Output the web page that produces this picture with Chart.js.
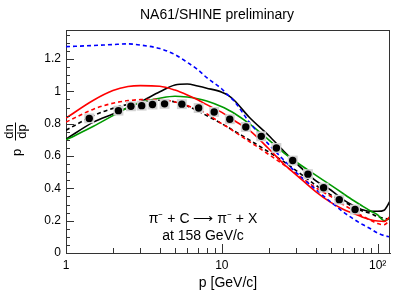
<!DOCTYPE html>
<html lang="en">
<head>
<meta charset="UTF-8">
<title>NA61/SHINE preliminary</title>
<script src="https://cdn.jsdelivr.net/npm/chart.js"></script>
<style>
  html, body { margin: 0; padding: 0; background: #fff; }
  #wrap { width: 407px; height: 295px; }
</style>
</head>
<body>
<div id="wrap"><canvas id="spectrum" width="407" height="295"></canvas></div>
<script>
// momentum grid used for the model curves [GeV/c]
const momentum = [1, 1.5, 2, 2.5, 3, 4, 5, 6, 7, 8, 10, 11, 12, 15, 20, 25, 30, 40, 50, 60, 70, 80, 90, 100, 110, 120];

// model predictions, p dn/dp
const redSolid   = [0.835, 0.945, 1.005, 1.03, 1.036, 1.032, 1.008, 0.978, 0.948, 0.918, 0.87, 0.845, 0.82, 0.76, 0.645, 0.55, 0.484, 0.38, 0.313, 0.271, 0.244, 0.222, 0.206, 0.198, 0.195, 0.225];
const redDashed  = [0.81, 0.89, 0.927, 0.943, 0.949, 0.95, 0.935, 0.912, 0.888, 0.862, 0.80, 0.776, 0.752, 0.69, 0.61, 0.545, 0.49, 0.405, 0.35, 0.30, 0.262, 0.228, 0.203, 0.182, 0.175, 0.205];
const blackDashed = [0.76, 0.85, 0.895, 0.92, 0.935, 0.945, 0.935, 0.91, 0.88, 0.85, 0.80, 0.778, 0.755, 0.70, 0.625, 0.565, 0.51, 0.42, 0.36, 0.32, 0.285, 0.26, 0.245, 0.225, 0.215, 0.21];
const blackSolid = [0.705, 0.81, 0.86, 0.90, 0.935, 0.998, 1.04, 1.046, 1.033, 1.02, 0.995, 0.975, 0.945, 0.84, 0.727, 0.63, 0.556, 0.448, 0.39, 0.33, 0.293, 0.268, 0.258, 0.258, 0.265, 0.32];
const greenSolid = [0.70, 0.784, 0.85, 0.90, 0.932, 0.958, 0.97, 0.965, 0.955, 0.94, 0.905, 0.885, 0.865, 0.80, 0.70, 0.62, 0.563, 0.482, 0.42, 0.368, 0.325, 0.29, 0.26, 0.236, 0.20, 0.215];
const blueDashed = [1.277, 1.284, 1.29, 1.294, 1.287, 1.265, 1.228, 1.18, 1.135, 1.085, 1.015, 0.975, 0.94, 0.81, 0.672, 0.575, 0.498, 0.394, 0.316, 0.255, 0.21, 0.176, 0.15, 0.123, 0.108, 0.10];

// NA61/SHINE measurement
const dataMomentum = [1.41, 2.17, 2.61, 3.06, 3.59, 4.29, 5.54, 7.1, 8.93, 11.25, 14.25, 17.9, 22.4, 28.5, 35.7, 45, 56.7, 71.6];
const dataValue    = [0.833, 0.881, 0.908, 0.912, 0.919, 0.923, 0.921, 0.897, 0.873, 0.828, 0.780, 0.722, 0.650, 0.572, 0.488, 0.404, 0.330, 0.269];

// axis ticks
const xLabelTicks = [1, 10, 100];
const xTickText = ['1', '10', '10²'];
const yLabelTicks = [0, 0.2, 0.4, 0.6, 0.8, 1, 1.2];

const FONT = '"Liberation Sans", Arial, Helvetica, sans-serif';

function curve(values, color, dashed) {
    return {
        type: 'line',
        data: momentum.map((p, i) => ({ x: p, y: values[i] })),
        borderColor: color,
        borderWidth: 1.6,
        borderDash: dashed ? [4, 3] : [],
        pointRadius: 0,
        cubicInterpolationMode: 'monotone',
        fill: false,
        order: 3
    };
}

const points = dataMomentum.map((p, i) => ({ x: p, y: dataValue[i] }));

// frame, inward ticks and the extra text ROOT puts on the pad
const rootFrame = {
    id: 'rootFrame',
    afterDraw(chart) {
        const { ctx, chartArea: a, scales: { x, y } } = chart;
        ctx.save();
        ctx.strokeStyle = '#333';
        ctx.lineWidth = 1;
        ctx.beginPath();
        ctx.moveTo(a.left, a.top + 0.5);
        ctx.lineTo(a.right, a.top + 0.5);
        ctx.moveTo(a.right - 0.5, a.top);
        ctx.lineTo(a.right - 0.5, a.bottom);

        // x ticks (log)
        for (let dec = 1; dec <= 100; dec *= 10) {
            for (let k = 1; k <= 9; k++) {
                const v = dec * k;
                if (v > 120) break;
                const px = Math.round(x.getPixelForValue(v)) + 0.5;
                const len = k === 1 ? 9 : 5;
                ctx.moveTo(px, a.bottom);
                ctx.lineTo(px, a.bottom - len);
            }
        }
        // y ticks
        for (let i = 0; i <= 27; i++) {
            const v = i * 0.05;
            const py = Math.round(y.getPixelForValue(v)) + 0.5;
            const len = i % 4 === 0 ? 8 : 4;
            ctx.moveTo(a.left, py);
            ctx.lineTo(a.left + len, py);
        }
        ctx.stroke();

        ctx.fillStyle = '#000';
        ctx.textAlign = 'center';
        ctx.textBaseline = 'middle';
        ctx.font = '14px ' + FONT;
        ctx.fillText('NA61/SHINE preliminary', 217, 15);

        ctx.fillText('π⁻ + C ⟶ π⁻ + X', 203, 219);
        ctx.fillText('at 158 GeV/c', 203, 236);

        // y axis title: p dn/dp, rotated
        ctx.translate(15, 140);
        ctx.rotate(-Math.PI / 2);
        ctx.font = '13px ' + FONT;
        ctx.textBaseline = 'alphabetic';
        ctx.fillText('p', -12.5, 5.5);
        ctx.fillText('dn', 8.5, -2);
        ctx.fillText('dp', 8.5, 11);
        ctx.beginPath();
        ctx.moveTo(-0.5, 0.5);
        ctx.lineTo(17.5, 0.5);
        ctx.strokeStyle = '#000';
        ctx.stroke();
        ctx.restore();
    }
};

new Chart(document.getElementById('spectrum'), {
    type: 'scatter',
    data: {
        datasets: [
            {
                data: points,
                pointStyle: 'circle',
                pointRadius: 3.7,
                backgroundColor: '#000',
                borderWidth: 0,
                showLine: false,
                order: 0
            },
            {
                data: points,
                pointStyle: 'rect',
                pointRadius: 7,
                backgroundColor: '#d2d2d2',
                borderWidth: 0,
                showLine: false,
                order: 1
            },
            curve(blueDashed, '#0000ff', true),
            curve(redSolid, '#ff0000', false),
            curve(redDashed, '#ff0000', true),
            curve(greenSolid, '#009a00', false),
            curve(blackSolid, '#000000', false),
            curve(blackDashed, '#000000', true)
        ]
    },
    options: {
        responsive: false,
        animation: false,
        layout: { padding: { top: 30, right: 17, left: 0, bottom: 0 } },
        plugins: { legend: { display: false }, tooltip: { enabled: false } },
        scales: {
            x: {
                type: 'logarithmic',
                min: 1,
                max: 120,
                grid: { display: false, drawTicks: false },
                border: { display: true, color: '#333', width: 1 },
                afterBuildTicks: s => { s.ticks = xLabelTicks.map(v => ({ value: v })); },
                afterFit: s => { s.height = 42; },
                ticks: {
                    color: '#000',
                    font: { family: FONT, size: 12 },
                    padding: 5,
                    maxRotation: 0,
                    autoSkip: false,
                    callback: v => xTickText[xLabelTicks.indexOf(v)]
                },
                title: {
                    display: true,
                    text: 'p [GeV/c]',
                    color: '#000',
                    font: { family: FONT, size: 14 },
                    padding: { top: 0, bottom: 3 }
                }
            },
            y: {
                min: 0,
                max: 1.38,
                grid: { display: false, drawTicks: false },
                border: { display: true, color: '#333', width: 1 },
                afterBuildTicks: s => { s.ticks = yLabelTicks.map(v => ({ value: v })); },
                afterFit: s => { s.width = 66; },
                ticks: {
                    color: '#000',
                    font: { family: FONT, size: 12 },
                    padding: 5,
                    callback: v => String(Math.round(v * 10) / 10)
                }
            }
        }
    },
    plugins: [rootFrame]
});
</script>
</body>
</html>
